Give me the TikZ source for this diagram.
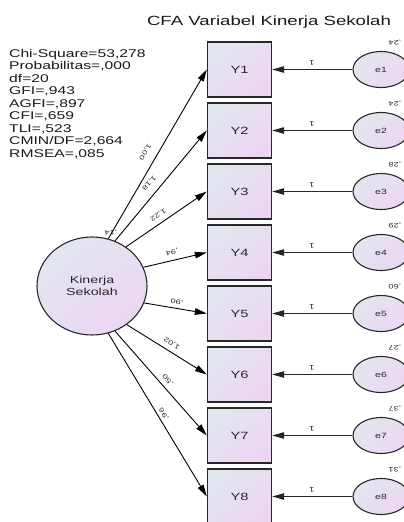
\documentclass[tikz,border=0pt]{standalone}
\usepackage{fontspec}
\setmainfont[FakeStretch=1.4]{Liberation Sans}
\usetikzlibrary{arrows.meta,shapes.geometric}
\definecolor{cA}{RGB}{226,230,239}
\definecolor{cB}{RGB}{236,214,242}
\definecolor{edge}{RGB}{40,40,40}
\definecolor{txt}{RGB}{40,40,40}
\begin{document}
\begin{tikzpicture}[x=1pt,y=-1pt,
  obs/.style={draw=edge, line width=1.4pt, minimum width=64pt, minimum height=55pt, inner sep=0pt,
    top color=cA, bottom color=cB, shading angle=40, text=txt, font=\fontsize{10.5}{12}\selectfont},
  err/.style={ellipse, draw=edge, line width=1.1pt, minimum width=56pt, minimum height=36pt, inner sep=0pt,
    top color=cA, bottom color=cB, shading angle=40, text=txt, font=\fontsize{7.5}{8}\selectfont},
  lat/.style={ellipse, draw=edge, line width=1.1pt, minimum width=110pt, minimum height=98pt, inner sep=0pt,
    top color=cA, bottom color=cB, shading angle=40, text=txt, align=center, font=\fontsize{10.2}{12}\selectfont},
  load/.style={-{Triangle[length=12pt,width=6.5pt]}, line width=0.9pt, draw=black},
  errarr/.style={-{Triangle[length=12pt,width=6.5pt]}, line width=0.9pt, draw=black!85},
  lbl/.style={font=\fontsize{6.5}{7}\selectfont, inner sep=0pt, text=txt},
  stat/.style={anchor=base west, inner sep=0pt, text=black!90, font=\fontsize{11.2}{12.5}\selectfont},
]
\useasboundingbox (0,0) rectangle (404,522);
\clip (0,0) rectangle (404,522);

\node[text=black!90, font=\fontsize{13.3}{15}\selectfont] (title) at (269,22) {CFA Variabel Kinerja Sekolah};

\node[stat] (s1) at (9,57) {Chi-Square=53,278};
\node[stat] (s2) at (9,69.5) {Probabilitas=,000};
\node[stat] (s3) at (9,82) {df=20};
\node[stat] (s4) at (9,94.5) {GFI=,943};
\node[stat] (s5) at (9,107) {AGFI=,897};
\node[stat] (s6) at (9,119.5) {CFI=,659};
\node[stat] (s7) at (9,132) {TLI=,523};
\node[stat] (s8) at (9,144.5) {CMIN/DF=2,664};
\node[stat] (s9) at (9,157) {RMSEA=,085};

\node[lat] (K) at (92,286) {Kinerja\\Sekolah};
\node[lbl,rotate=180] (kv) at (111,232) {,14};

\foreach \i/\ev in {1/24,2/24,3/28,4/29,5/60,6/27,7/37,8/31} {
  \pgfmathsetmacro\cy{69.5+61*(\i-1)}
  \node[obs] (Y\i) at (239.5,\cy) {Y\i};
  \node[err] (e\i) at (381,\cy) {e\i};
  \draw[errarr] (e\i.west) -- (Y\i.east);
  \node[lbl,rotate=180,font=\fontsize{7}{8}\selectfont] (one\i) at (312,\cy-7) {1};
  \node[lbl,rotate=180] (v\i) at (395,\cy-27) {,\ev};
}

\draw[load] (K.71.6) -- (Y1.west);
\draw[load] (K.63.4) -- (Y2.west);
\draw[load] (K.49.5) -- (Y3.west);
\draw[load] (K.20.4) -- (Y4.west);
\draw[load] (K.-18.4) -- (Y5.west);
\draw[load] (K.-48) -- (Y6.west);
\draw[load] (K.-63.4) -- (Y7.west);
\draw[load] (K.-71) -- (Y8.west);

\node[lbl,rotate=239.6] (l1) at (145,152) {1,00};
\node[lbl,rotate=230] (l2) at (149,183) {1,18};
\node[lbl,rotate=213.8] (l3) at (158,215) {1,22};
\node[lbl,rotate=192.8] (l4) at (172,252) {,94};
\node[lbl,rotate=170.2] (l5) at (177,302) {,90};
\node[lbl,rotate=148] (l6) at (172,343) {1,02};
\node[lbl,rotate=131.4] (l7) at (168,380) {,50};
\node[lbl,rotate=120.9] (l8) at (164,414) {,96};
\end{tikzpicture}
\end{document}
